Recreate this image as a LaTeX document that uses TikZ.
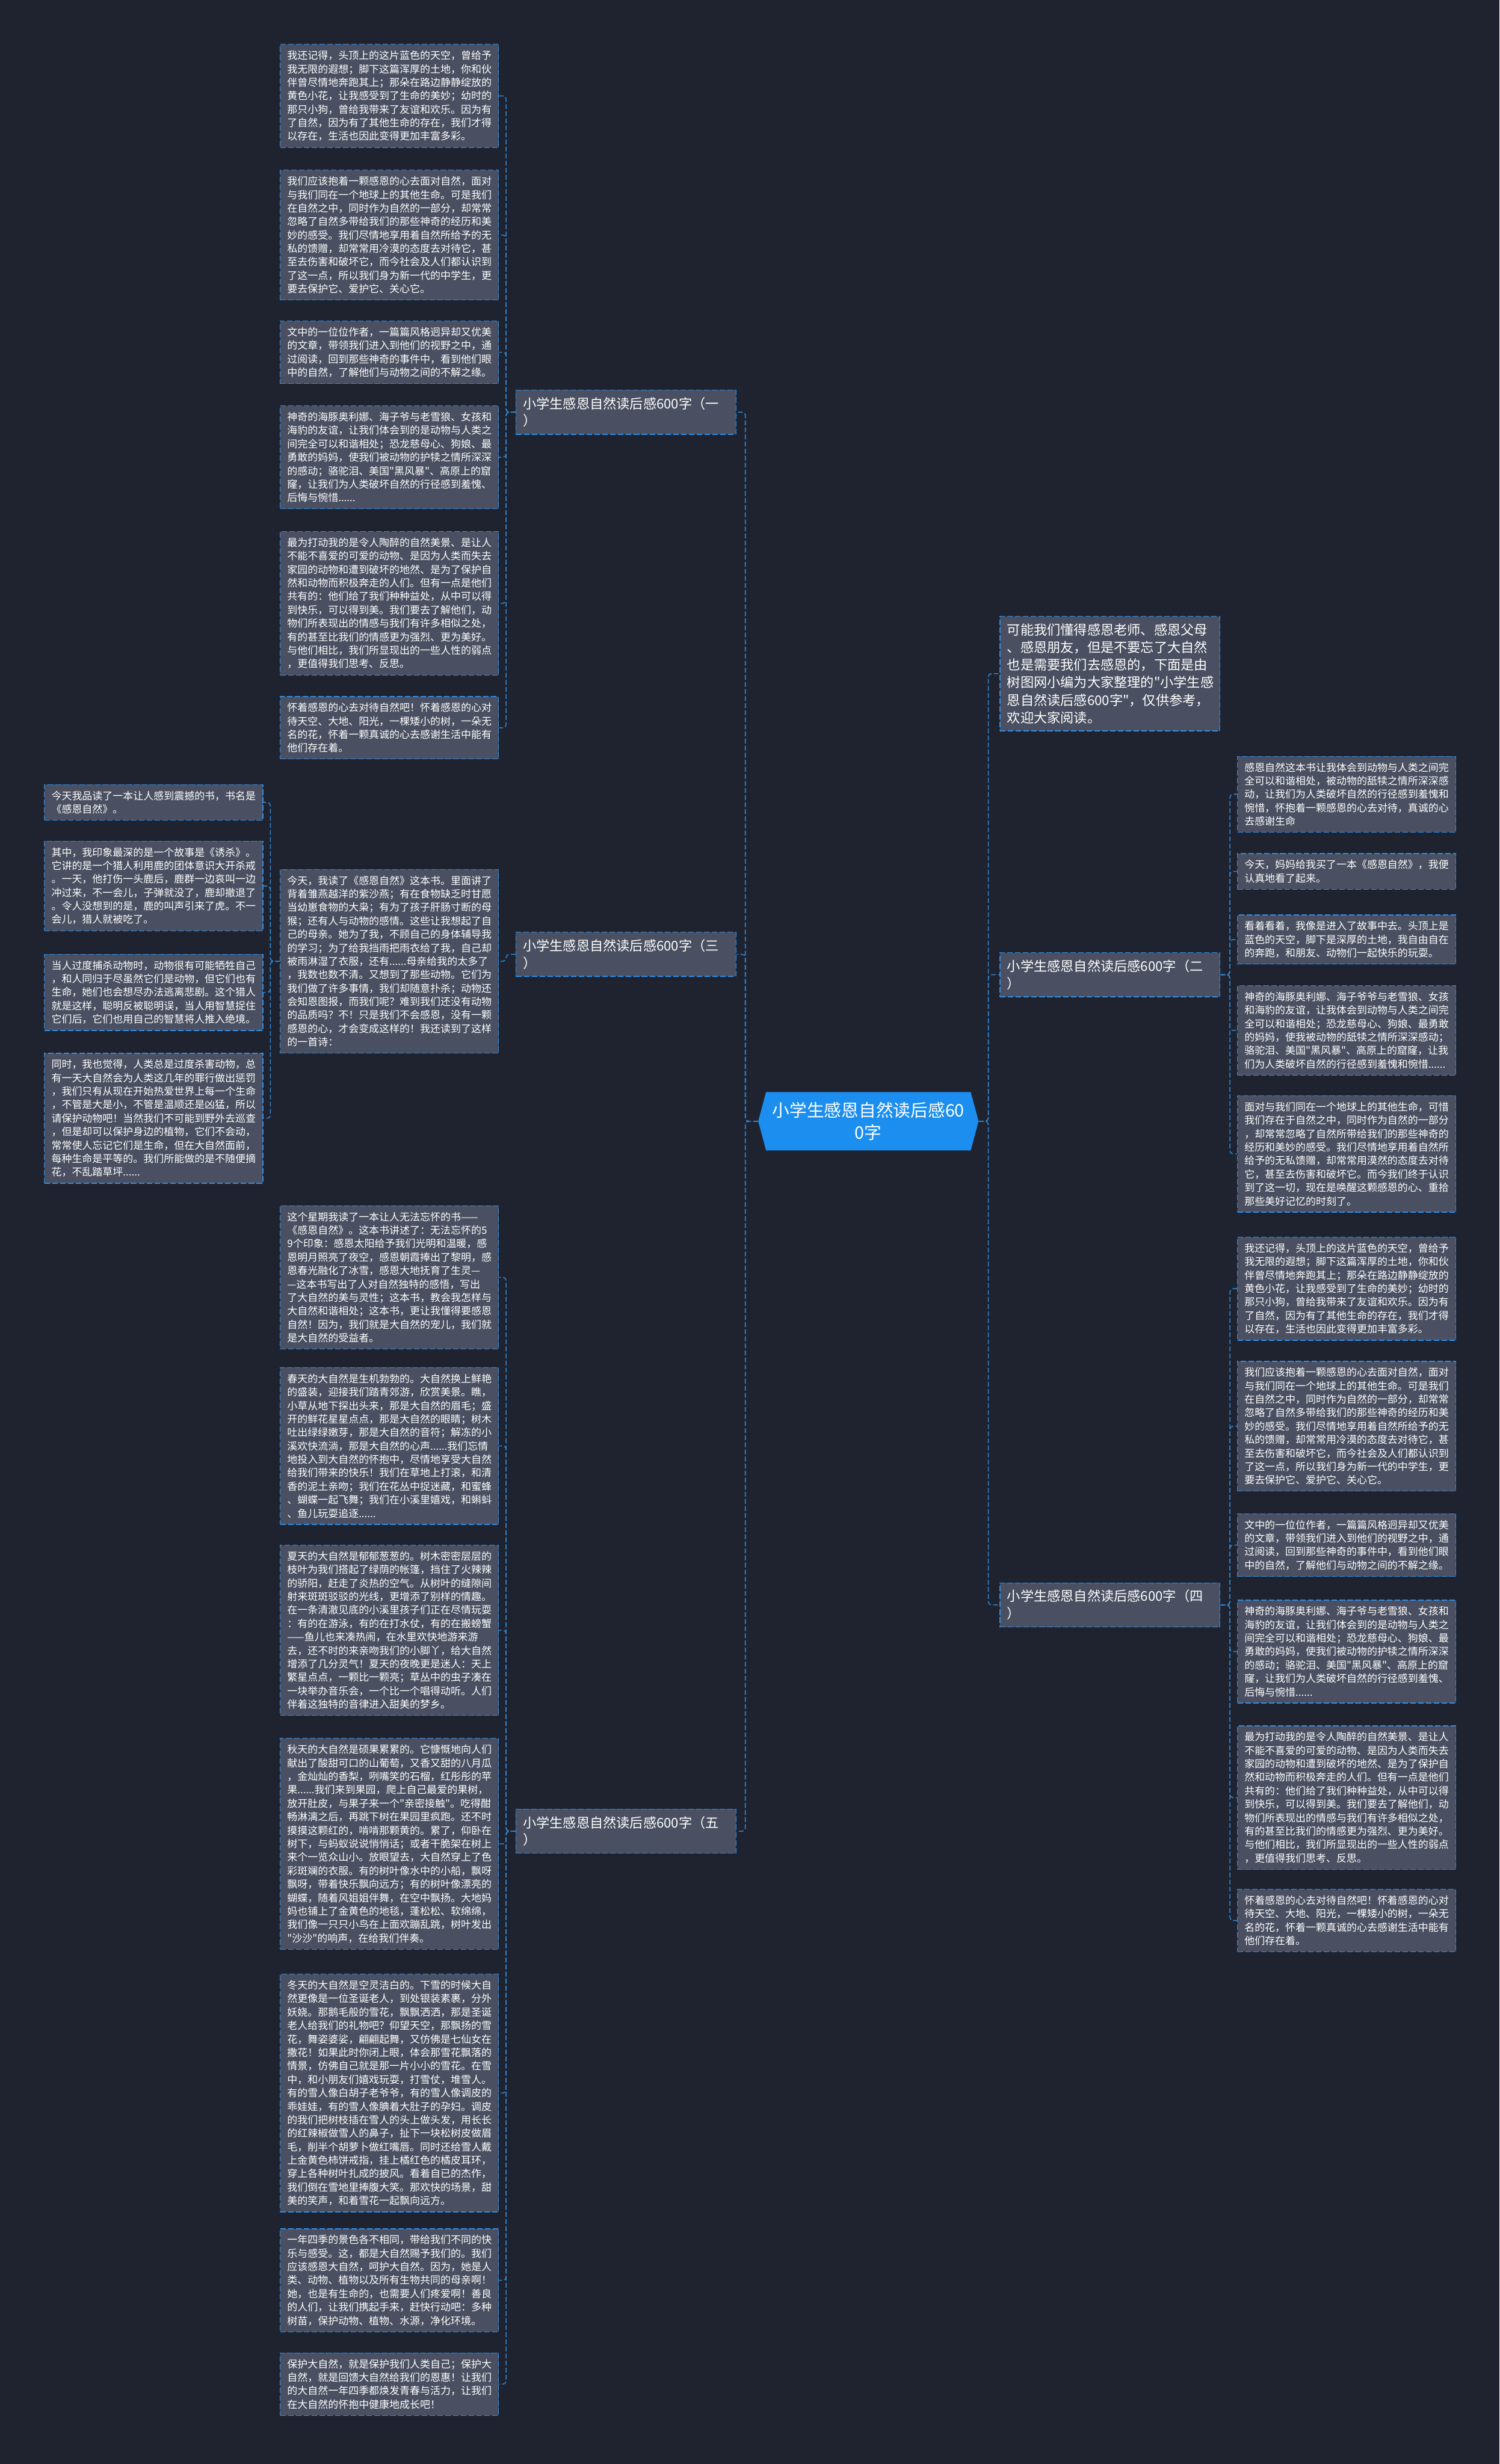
\documentclass[tikz,border=0pt]{standalone}
\usepackage{fontspec}
\newfontfamily\cjkf{Noto Sans CJK SC}
\usetikzlibrary{shapes.symbols}
\definecolor{bgc}{HTML}{1F2330}
\definecolor{boxfill}{HTML}{4A5061}
\definecolor{boxline}{HTML}{2E8DE6}
\definecolor{linec}{HTML}{2F86D0}
\definecolor{centralc}{HTML}{1B8EEF}
\tikzset{
  txt/.style={draw=boxline, fill=boxfill, dash pattern=on 3.5pt off 1.5pt, line width=0.5pt,
    text=white, font=\cjkf\fontsize{6.5}{8.57}\selectfont, align=left, text width=130pt,
    inner xsep=4.5pt, inner ysep=4pt, anchor=north west},
  lbl/.style={draw=boxline, fill=boxfill, dash pattern=on 3.5pt off 1.5pt, line width=0.5pt,
    text=white, font=\cjkf\fontsize{8.5}{11}\selectfont, align=left, text width=131pt,
    inner xsep=4.5pt, inner ysep=4.5pt, anchor=north west},
  intro/.style={lbl, font=\cjkf\fontsize{8.5}{11.2}\selectfont},
  centralnode/.style={shape=signal, signal to=east and west, signal pointer angle=150,
    fill=centralc, text=white, font=\cjkf\fontsize{11}{14}\selectfont, align=center,
    inner xsep=4pt, inner ysep=6.5pt},
  conn/.style={draw=linec, dash pattern=on 3pt off 1.5pt, line width=0.6pt, rounded corners=2pt}
}
\begin{document}
\begin{tikzpicture}[x=1pt,y=-1pt]
\fill[bgc] (0,0) rectangle (954,1568);

% central
\node[centralnode] (c) at (552.5,713.5) {小学生感恩自然读后感60\\0字};

% branch labels
\node[lbl] (b1) at (328,248) {小学生感恩自然读后感600字（一\\）};
\node[lbl] (b3) at (328,593) {小学生感恩自然读后感600字（三\\）};
\node[lbl] (b5) at (328,1151) {小学生感恩自然读后感600字（五\\）};
\node[lbl] (b2) at (636,606) {小学生感恩自然读后感600字（二\\）};
\node[lbl] (b4) at (636,1007) {小学生感恩自然读后感600字（四\\）};
\node[intro] (in) at (636,392) {可能我们懂得感恩老师、感恩父母\\、感恩朋友，但是不要忘了大自然\\也是需要我们去感恩的，下面是由\\树图网小编为大家整理的"小学生感\\恩自然读后感600字"，仅供参考，\\欢迎大家阅读。};

% branch 1 children
\node[txt] (a1) at (178,28) {我还记得，头顶上的这片蓝色的天空，曾给予\\我无限的遐想；脚下这篇浑厚的土地，你和伙\\伴曾尽情地奔跑其上；那朵在路边静静绽放的\\黄色小花，让我感受到了生命的美妙；幼时的\\那只小狗，曾给我带来了友谊和欢乐。因为有\\了自然，因为有了其他生命的存在，我们才得\\以存在，生活也因此变得更加丰富多彩。};
\node[txt] (a2) at (178,108) {我们应该抱着一颗感恩的心去面对自然，面对\\与我们同在一个地球上的其他生命。可是我们\\在自然之中，同时作为自然的一部分，却常常\\忽略了自然多带给我们的那些神奇的经历和美\\妙的感受。我们尽情地享用着自然所给予的无\\私的馈赠，却常常用冷漠的态度去对待它，甚\\至去伤害和破坏它，而今社会及人们都认识到\\了这一点，所以我们身为新一代的中学生，更\\要去保护它、爱护它、关心它。};
\node[txt] (a3) at (178,204) {文中的一位位作者，一篇篇风格迥异却又优美\\的文章，带领我们进入到他们的视野之中，通\\过阅读，回到那些神奇的事件中，看到他们眼\\中的自然，了解他们与动物之间的不解之缘。};
\node[txt] (a4) at (178,258) {神奇的海豚奥利娜、海子爷与老雪狼、女孩和\\海豹的友谊，让我们体会到的是动物与人类之\\间完全可以和谐相处；恐龙慈母心、狗娘、最\\勇敢的妈妈，使我们被动物的护犊之情所深深\\的感动；骆驼泪、美国"黑风暴"、高原上的窟\\窿，让我们为人类破坏自然的行径感到羞愧、\\后悔与惋惜......};
\node[txt] (a5) at (178,338) {最为打动我的是令人陶醉的自然美景、是让人\\不能不喜爱的可爱的动物、是因为人类而失去\\家园的动物和遭到破坏的地然、是为了保护自\\然和动物而积极奔走的人们。但有一点是他们\\共有的：他们给了我们种种益处，从中可以得\\到快乐，可以得到美。我们要去了解他们，动\\物们所表现出的情感与我们有许多相似之处，\\有的甚至比我们的情感更为强烈、更为美好。\\与他们相比，我们所显现出的一些人性的弱点\\，更值得我们思考、反思。};
\node[txt] (a6) at (178,443) {怀着感恩的心去对待自然吧！怀着感恩的心对\\待天空、大地、阳光，一棵矮小的树，一朵无\\名的花，怀着一颗真诚的心去感谢生活中能有\\他们存在着。};

% branch 3
\node[txt] (t0) at (178,553) {今天，我读了《感恩自然》这本书。里面讲了\\背着雏燕越洋的紫沙燕；有在食物缺乏时甘愿\\当幼崽食物的大枭；有为了孩子肝肠寸断的母\\猴；还有人与动物的感情。这些让我想起了自\\己的母亲。她为了我，不顾自己的身体辅导我\\的学习；为了给我挡雨把雨衣给了我，自己却\\被雨淋湿了衣服，还有......母亲给我的太多了\\，我数也数不清。又想到了那些动物。它们为\\我们做了许多事情，我们却随意扑杀；动物还\\会知恩图报，而我们呢？难到我们还没有动物\\的品质吗？不！只是我们不会感恩，没有一颗\\感恩的心，才会变成这样的！我还读到了这样\\的一首诗：};
\node[txt] (t1) at (28,499) {今天我品读了一本让人感到震撼的书，书名是\\《感恩自然》。};
\node[txt] (t2) at (28,535) {其中，我印象最深的是一个故事是《诱杀》。\\它讲的是一个猎人利用鹿的团体意识大开杀戒\\。一天，他打伤一头鹿后，鹿群一边哀叫一边\\冲过来，不一会儿，子弹就没了，鹿却撤退了\\。令人没想到的是，鹿的叫声引来了虎。不一\\会儿，猎人就被吃了。};
\node[txt] (t3) at (28,607) {当人过度捕杀动物时，动物很有可能牺牲自己\\，和人同归于尽虽然它们是动物，但它们也有\\生命，她们也会想尽办法逃离悲剧。这个猎人\\就是这样，聪明反被聪明误，当人用智慧捉住\\它们后，它们也用自己的智慧将人推入绝境。};
\node[txt] (t4) at (28,670) {同时，我也觉得，人类总是过度杀害动物，总\\有一天大自然会为人类这几年的罪行做出惩罚\\，我们只有从现在开始热爱世界上每一个生命\\，不管是大是小，不管是温顺还是凶猛，所以\\请保护动物吧！当然我们不可能到野外去巡查\\，但是却可以保护身边的植物，它们不会动，\\常常使人忘记它们是生命，但在大自然面前，\\每种生命是平等的。我们所能做的是不随便摘\\花，不乱踏草坪......};

% branch 5
\node[txt] (f1) at (178,767) {这个星期我读了一本让人无法忘怀的书——\\《感恩自然》。这本书讲述了：无法忘怀的5\\9个印象：感恩太阳给予我们光明和温暖，感\\恩明月照亮了夜空，感恩朝霞捧出了黎明，感\\恩春光融化了冰雪，感恩大地抚育了生灵—\\—这本书写出了人对自然独特的感悟，写出\\了大自然的美与灵性；这本书，教会我怎样与\\大自然和谐相处；这本书，更让我懂得要感恩\\自然！因为，我们就是大自然的宠儿，我们就\\是大自然的受益者。};
\node[txt] (f2) at (178,870) {春天的大自然是生机勃勃的。大自然换上鲜艳\\的盛装，迎接我们踏青郊游，欣赏美景。瞧，\\小草从地下探出头来，那是大自然的眉毛；盛\\开的鲜花星星点点，那是大自然的眼睛；树木\\吐出绿绿嫩芽，那是大自然的音符；解冻的小\\溪欢快流淌，那是大自然的心声......我们忘情\\地投入到大自然的怀抱中，尽情地享受大自然\\给我们带来的快乐！我们在草地上打滚，和清\\香的泥土亲吻；我们在花丛中捉迷藏，和蜜蜂\\、蝴蝶一起飞舞；我们在小溪里嬉戏，和蝌蚪\\、鱼儿玩耍追逐......};
\node[txt] (f3) at (178,983) {夏天的大自然是郁郁葱葱的。树木密密层层的\\枝叶为我们搭起了绿荫的帐篷，挡住了火辣辣\\的骄阳，赶走了炎热的空气。从树叶的缝隙间\\射来斑斑驳驳的光线，更增添了别样的情趣。\\在一条清澈见底的小溪里孩子们正在尽情玩耍\\：有的在游泳，有的在打水仗，有的在搬螃蟹\\——鱼儿也来凑热闹，在水里欢快地游来游\\去，还不时的来亲吻我们的小脚丫，给大自然\\增添了几分灵气！夏天的夜晚更是迷人：天上\\繁星点点，一颗比一颗亮；草丛中的虫子凑在\\一块举办音乐会，一个比一个唱得动听。人们\\伴着这独特的音律进入甜美的梦乡。};
\node[txt] (f4) at (178,1106) {秋天的大自然是硕果累累的。它慷慨地向人们\\献出了酸甜可口的山葡萄，又香又甜的八月瓜\\，金灿灿的香梨，咧嘴笑的石榴，红彤彤的苹\\果......我们来到果园，爬上自己最爱的果树，\\放开肚皮，与果子来一个"亲密接触"。吃得酣\\畅淋漓之后，再跳下树在果园里疯跑。还不时\\摸摸这颗红的，啃啃那颗黄的。累了，仰卧在\\树下，与蚂蚁说说悄悄话；或者干脆架在树上\\来个一览众山小。放眼望去，大自然穿上了色\\彩斑斓的衣服。有的树叶像水中的小船，飘呀\\飘呀，带着快乐飘向远方；有的树叶像漂亮的\\蝴蝶，随着风姐姐伴舞，在空中飘扬。大地妈\\妈也铺上了金黄色的地毯，蓬松松、软绵绵，\\我们像一只只小鸟在上面欢蹦乱跳，树叶发出\\"沙沙"的响声，在给我们伴奏。};
\node[txt] (f5) at (178,1256) {冬天的大自然是空灵洁白的。下雪的时候大自\\然更像是一位圣诞老人，到处银装素裹，分外\\妖娆。那鹅毛般的雪花，飘飘洒洒，那是圣诞\\老人给我们的礼物吧？仰望天空，那飘扬的雪\\花，舞姿婆娑，翩翩起舞，又仿佛是七仙女在\\撒花！如果此时你闭上眼，体会那雪花飘落的\\情景，仿佛自己就是那一片小小的雪花。在雪\\中，和小朋友们嬉戏玩耍，打雪仗，堆雪人。\\有的雪人像白胡子老爷爷，有的雪人像调皮的\\乖娃娃，有的雪人像腆着大肚子的孕妇。调皮\\的我们把树枝插在雪人的头上做头发，用长长\\的红辣椒做雪人的鼻子，扯下一块松树皮做眉\\毛，削半个胡萝卜做红嘴唇。同时还给雪人戴\\上金黄色柿饼戒指，挂上橘红色的橘皮耳环，\\穿上各种树叶扎成的披风。看着自已的杰作，\\我们倒在雪地里捧腹大笑。那欢快的场景，甜\\美的笑声，和着雪花一起飘向远方。};
\node[txt] (f6) at (178,1418) {一年四季的景色各不相同，带给我们不同的快\\乐与感受。这，都是大自然赐予我们的。我们\\应该感恩大自然，呵护大自然。因为，她是人\\类、动物、植物以及所有生物共同的母亲啊！\\她，也是有生命的，也需要人们疼爱啊！善良\\的人们，让我们携起手来，赶快行动吧：多种\\树苗，保护动物、植物、水源，净化环境。};
\node[txt] (f7) at (178,1497) {保护大自然，就是保护我们人类自己；保护大\\自然，就是回馈大自然给我们的恩惠！让我们\\的大自然一年四季都焕发青春与活力，让我们\\在大自然的怀抱中健康地成长吧！};

% branch 2
\node[txt] (r1) at (787,481) {感恩自然这本书让我体会到动物与人类之间完\\全可以和谐相处，被动物的舐犊之情所深深感\\动，让我们为人类破坏自然的行径感到羞愧和\\惋惜，怀抱着一颗感恩的心去对待，真诚的心\\去感谢生命};
\node[txt] (r2) at (787,543) {今天，妈妈给我买了一本《感恩自然》，我便\\认真地看了起来。};
\node[txt] (r3) at (787,582) {看着看着，我像是进入了故事中去。头顶上是\\蓝色的天空，脚下是深厚的土地，我自由自在\\的奔跑，和朋友、动物们一起快乐的玩耍。};
\node[txt] (r4) at (787,627) {神奇的海豚奥利娜、海子爷爷与老雪狼、女孩\\和海豹的友谊，让我体会到动物与人类之间完\\全可以和谐相处；恐龙慈母心、狗娘、最勇敢\\的妈妈，使我被动物的舐犊之情所深深感动；\\骆驼泪、美国"黑风暴"、高原上的窟窿，让我\\们为人类破坏自然的行径感到羞愧和惋惜......};
\node[txt] (r5) at (787,697) {面对与我们同在一个地球上的其他生命，可惜\\我们存在于自然之中，同时作为自然的一部分\\，却常常忽略了自然所带给我们的那些神奇的\\经历和美妙的感受。我们尽情地享用着自然所\\给予的无私馈赠，却常常用漠然的态度去对待\\它，甚至去伤害和破坏它。而今我们终于认识\\到了这一切，现在是唤醒这颗感恩的心、重拾\\那些美好记忆的时刻了。};

% branch 4
\node[txt] (s1) at (787,787) {我还记得，头顶上的这片蓝色的天空，曾给予\\我无限的遐想；脚下这篇浑厚的土地，你和伙\\伴曾尽情地奔跑其上；那朵在路边静静绽放的\\黄色小花，让我感受到了生命的美妙；幼时的\\那只小狗，曾给我带来了友谊和欢乐。因为有\\了自然，因为有了其他生命的存在，我们才得\\以存在，生活也因此变得更加丰富多彩。};
\node[txt] (s2) at (787,866) {我们应该抱着一颗感恩的心去面对自然，面对\\与我们同在一个地球上的其他生命。可是我们\\在自然之中，同时作为自然的一部分，却常常\\忽略了自然多带给我们的那些神奇的经历和美\\妙的感受。我们尽情地享用着自然所给予的无\\私的馈赠，却常常用冷漠的态度去对待它，甚\\至去伤害和破坏它，而今社会及人们都认识到\\了这一点，所以我们身为新一代的中学生，更\\要去保护它、爱护它、关心它。};
\node[txt] (s3) at (787,963) {文中的一位位作者，一篇篇风格迥异却又优美\\的文章，带领我们进入到他们的视野之中，通\\过阅读，回到那些神奇的事件中，看到他们眼\\中的自然，了解他们与动物之间的不解之缘。};
\node[txt] (s4) at (787,1018) {神奇的海豚奥利娜、海子爷与老雪狼、女孩和\\海豹的友谊，让我们体会到的是动物与人类之\\间完全可以和谐相处；恐龙慈母心、狗娘、最\\勇敢的妈妈，使我们被动物的护犊之情所深深\\的感动；骆驼泪、美国"黑风暴"、高原上的窟\\窿，让我们为人类破坏自然的行径感到羞愧、\\后悔与惋惜......};
\node[txt] (s5) at (787,1098) {最为打动我的是令人陶醉的自然美景、是让人\\不能不喜爱的可爱的动物、是因为人类而失去\\家园的动物和遭到破坏的地然、是为了保护自\\然和动物而积极奔走的人们。但有一点是他们\\共有的：他们给了我们种种益处，从中可以得\\到快乐，可以得到美。我们要去了解他们，动\\物们所表现出的情感与我们有许多相似之处，\\有的甚至比我们的情感更为强烈、更为美好。\\与他们相比，我们所显现出的一些人性的弱点\\，更值得我们思考、反思。};
\node[txt] (s6) at (787,1202) {怀着感恩的心去对待自然吧！怀着感恩的心对\\待天空、大地、阳光，一棵矮小的树，一朵无\\名的花，怀着一颗真诚的心去感谢生活中能有\\他们存在着。};

% connectors: central to branches
\foreach \n in {b1,b3,b5} \draw[conn] (c.west) -- ++(-8,0) |- (\n.east);
\foreach \n in {in,b2,b4} \draw[conn] (c.east) -- ++(6,0) |- (\n.west);
% branch 1
\foreach \n in {a1,a2,a3,a4,a5,a6} \draw[conn] (b1.west) -- ++(-6,0) |- (\n.east);
% branch 3
\draw[conn] (b3.west) -- ++(-6,0) |- (t0.east);
\foreach \n in {t1,t2,t3,t4} \draw[conn] (t0.west) -- ++(-6,0) |- (\n.east);
% branch 5
\foreach \n in {f1,f2,f3,f4,f5,f6,f7} \draw[conn] (b5.west) -- ++(-6,0) |- (\n.east);
% branch 2
\foreach \n in {r1,r2,r3,r4,r5} \draw[conn] (b2.east) -- ++(6,0) |- (\n.west);
% branch 4
\foreach \n in {s1,s2,s3,s4,s5,s6} \draw[conn] (b4.east) -- ++(6,0) |- (\n.west);
\end{tikzpicture}
\end{document}
